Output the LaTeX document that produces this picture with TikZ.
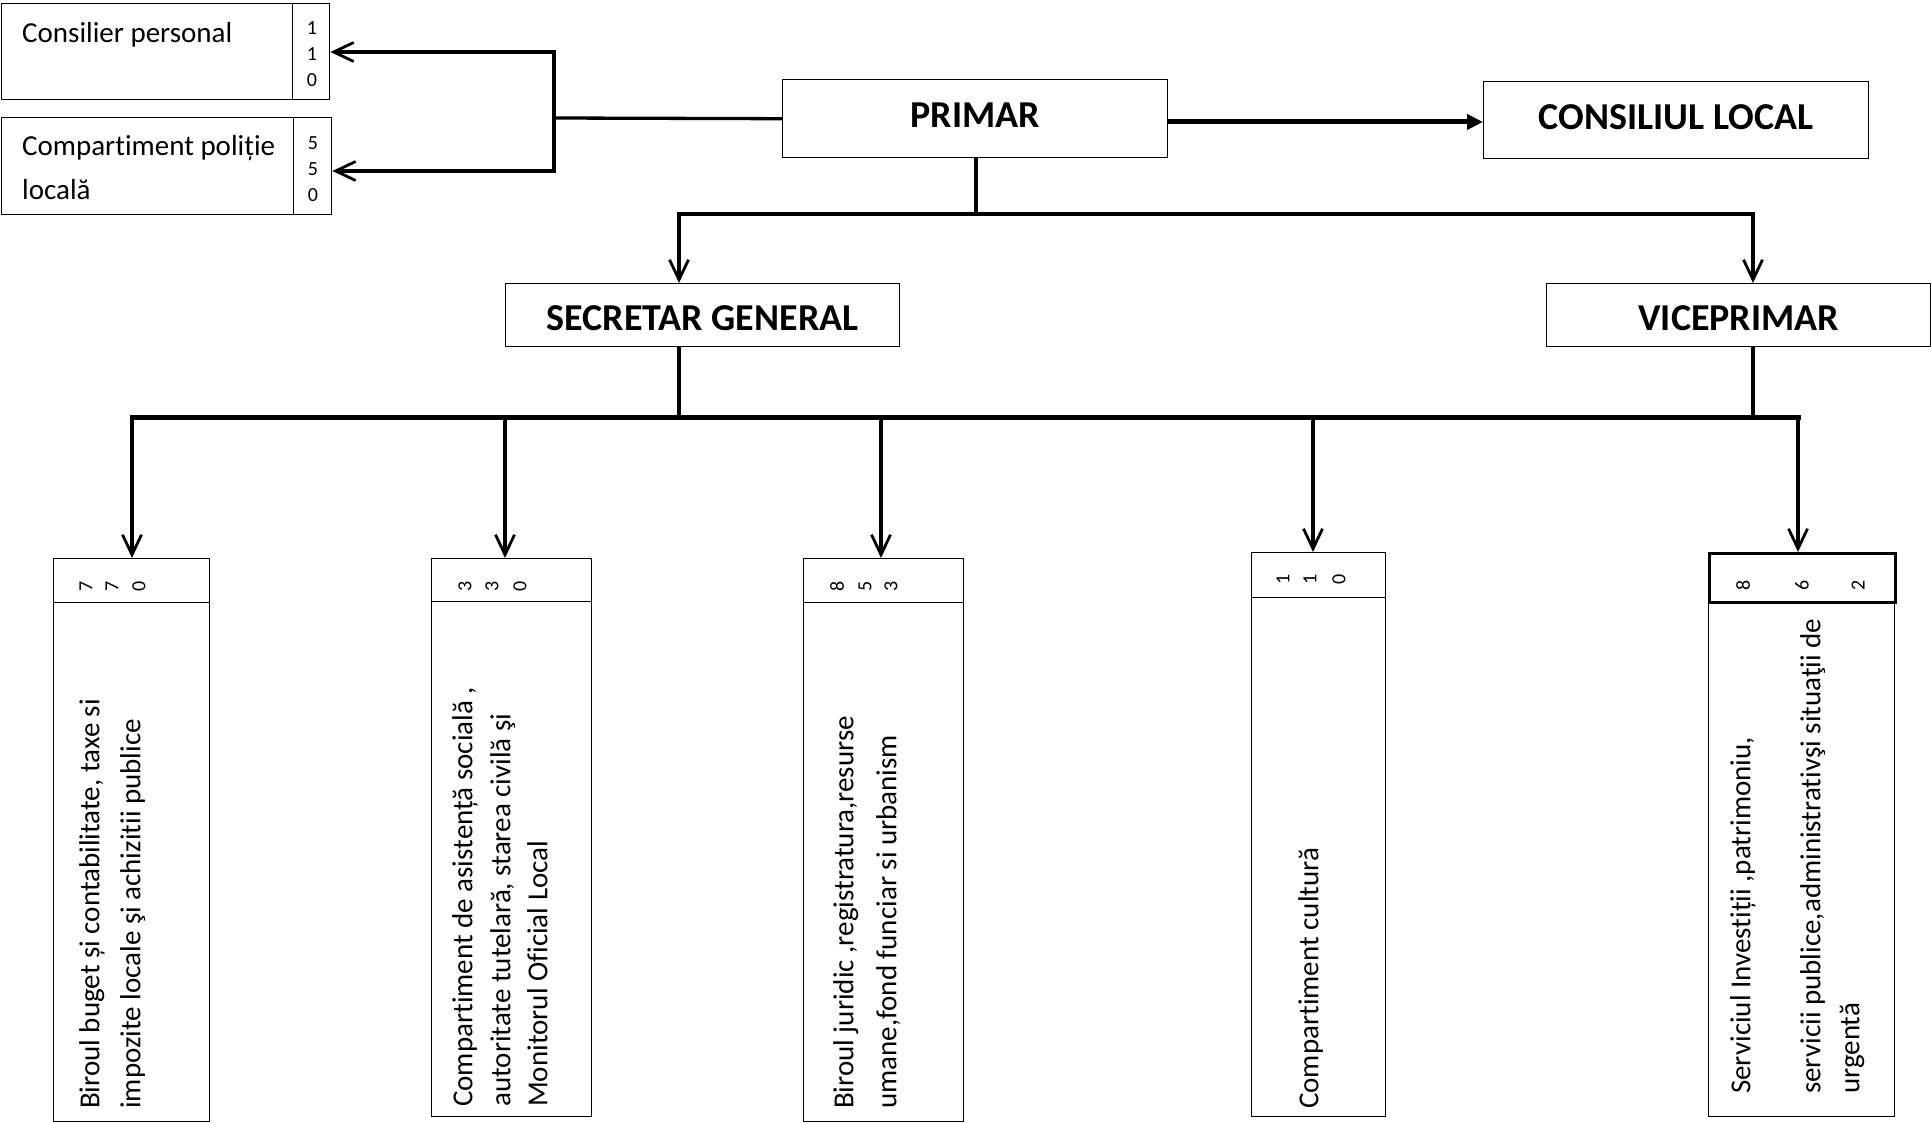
\documentclass[tikz,border=0pt]{standalone}
\usepackage{fontspec}
\setmainfont{Carlito}[Ligatures=CommonOff]
\usetikzlibrary{arrows.meta}
\begin{document}
\begin{tikzpicture}[x=1pt,y=-1pt,
  box/.style={draw, line width=1.4pt, inner sep=0pt, anchor=north west},
  conn/.style={line width=3.3pt},
  bus/.style={line width=5pt},
  arr/.style={conn, -{Straight Barb[length=20pt,width=19pt,line width=2.8pt]}},
  farr/.style={line width=5pt, -{Triangle[length=16pt,width=15pt]}},
  txt/.style={inner sep=0pt, font=\fontsize{29}{40}\selectfont},
  rtxt/.style={txt, rotate=90, anchor=mid west},
  num/.style={inner sep=0pt, font=\fontsize{20}{22}\selectfont},
  rnum/.style={num, rotate=90},
  head/.style={font=\fontsize{38}{42}\selectfont\bfseries},
  headup/.style={head, text height=26pt, text depth=8pt},
  headdown/.style={head, text height=31pt, text depth=0pt}]
\useasboundingbox (0,0) rectangle (1931,1123);

% top-left boxes
\node[box, minimum width=291pt, minimum height=96pt] (cons) at (1,3) {};
\node[box, minimum width=37pt, minimum height=96pt] (consn) at (292,3) {};
\node[box, minimum width=292pt, minimum height=97pt] (pol) at (1,117) {};
\node[box, minimum width=38pt, minimum height=97pt] (poln) at (293,117) {};
\node[txt, anchor=mid west] (constxt) at (22,40) {Consilier personal};
\node[txt, anchor=mid west] (pol1) at (22,153) {Compartiment poliție};
\node[txt, anchor=mid west] (pol2) at (22,197) {locală};
\node[num] (cn1) at (312,28) {1};
\node[num] (cn2) at (312,54) {1};
\node[num] (cn3) at (312,80) {0};
\node[num] (pn1) at (313,143) {5};
\node[num] (pn2) at (313,169) {5};
\node[num] (pn3) at (313,195) {0};

% main boxes
\node[box, headup, minimum width=385pt, minimum height=78pt] (primar) at (782,79) {PRIMAR};
\node[box, headup, minimum width=385pt, minimum height=77pt] (consloc) at (1483,81) {CONSILIUL LOCAL};
\node[box, headdown, minimum width=394pt, minimum height=63pt] (sec) at (505,283) {SECRETAR GENERAL};
\node[box, headdown, minimum width=384pt, minimum height=63pt] (vice) at (1546,283) {VICEPRIMAR};

% bottom boxes
\node[box, minimum width=156pt, minimum height=44pt] (b1h) at (53,558) {};
\node[box, minimum width=156pt, minimum height=519pt] (b1) at (53,602) {};
\node[box, minimum width=160pt, minimum height=43pt] (b2h) at (431,558) {};
\node[box, minimum width=160pt, minimum height=515pt] (b2) at (431,601) {};
\node[box, minimum width=160pt, minimum height=44pt] (b3h) at (803,558) {};
\node[box, minimum width=160pt, minimum height=519pt] (b3) at (803,602) {};
\node[box, minimum width=134pt, minimum height=45pt] (b4h) at (1251,552) {};
\node[box, minimum width=134pt, minimum height=519pt] (b4) at (1251,597) {};
\node[box, minimum width=186pt, minimum height=515pt] (b5) at (1708,601) {};
\node[box, line width=2.6pt, minimum width=186pt, minimum height=49pt] (b5h) at (1708,552) {};

% numbers in headers
\node[rnum] (b1n1) at (86,586) {7};
\node[rnum] (b1n2) at (112,586) {7};
\node[rnum] (b1n3) at (139,586) {0};
\node[rnum] (b2n1) at (465,586) {3};
\node[rnum] (b2n2) at (492,586) {3};
\node[rnum] (b2n3) at (520,586) {0};
\node[rnum] (b3n1) at (837,586) {8};
\node[rnum] (b3n2) at (865,586) {5};
\node[rnum] (b3n3) at (891,586) {3};
\node[rnum] (b4n1) at (1283,579) {1};
\node[rnum] (b4n2) at (1310,579) {1};
\node[rnum] (b4n3) at (1339,579) {0};
\node[rnum] (b5n1) at (1743,585) {8};
\node[rnum] (b5n2) at (1802,585) {6};
\node[rnum] (b5n3) at (1858,585) {2};

% rotated texts
\node[rtxt] (b1a) at (97,1109) {Biroul buget și contabilitate, taxe si};
\node[rtxt] (b1b) at (138,1109) {impozite locale şi achizitii publice};
\node[rtxt] (b2a) at (470,1107) {Compartiment de asistență socială ,};
\node[rtxt] (b2b) at (508,1107) {autoritate tutelară, starea civilă şi};
\node[rtxt] (b2c) at (545,1107) {Monitorul Oficial Local};
\node[rtxt] (b3a) at (851,1109) {Biroul juridic ,registratura,resurse};
\node[rtxt] (b3b) at (894,1109) {umane,fond funciar si urbanism};
\node[rtxt] (b4a) at (1316,1109) {Compartiment cultură};
\node[rtxt] (b5a) at (1748,1094) {Serviciul Investiții ,patrimoniu,};
\node[rtxt] (b5b) at (1818,1094) {servicii publice,administrativşi situaţii de};
\node[rtxt] (b5c) at (1857,1094) {urgentă};

% connectors top-left
\coordinate (brk) at (554,118);
\coordinate (bt) at (554,52);
\coordinate (bb) at (554,171);
\draw[conn] (primar.west) -- (brk);
\draw[conn, line cap=rect] (bt) -- (bb);
\draw[arr] (bt) -- (bt -| consn.east);
\draw[arr] (bb) -- (bb -| poln.east);

% primar -> consiliul local
\coordinate (pc) at (1167,122);
\draw[farr] (pc) -- (pc -| consloc.west);

% primar -> secretar / viceprimar
\coordinate (pj) at (976,214);
\coordinate (jl) at (679,214);
\coordinate (jr) at (1753,214);
\draw[conn] (pj |- primar.south) -- (pj);
\draw[conn, line cap=rect] (jl) -- (jr);
\draw[arr] (jl) -- (jl |- sec.north);
\draw[arr] (jr) -- (jr |- vice.north);

% bus
\coordinate (busl) at (132,417);
\coordinate (busr) at (1798,417);
\draw[conn] (jl |- sec.south) -- (jl |- busl);
\draw[conn] (jr |- vice.south) -- (jr |- busl);
\draw[bus, line cap=rect] (busl) -- (busr);

\coordinate (a1) at (132,417);
\coordinate (a2) at (505,417);
\coordinate (a3) at (881,417);
\coordinate (a4) at (1313,417);
\coordinate (a5) at (1798,417);
\draw[arr] (a1) -- (a1 |- b1h.north);
\draw[arr] (a2) -- (a2 |- b2h.north);
\draw[arr] (a3) -- (a3 |- b3h.north);
\draw[arr] (a4) -- (a4 |- b4h.north);
\draw[arr] (a5) -- (a5 |- b5h.north);
\end{tikzpicture}
\end{document}
